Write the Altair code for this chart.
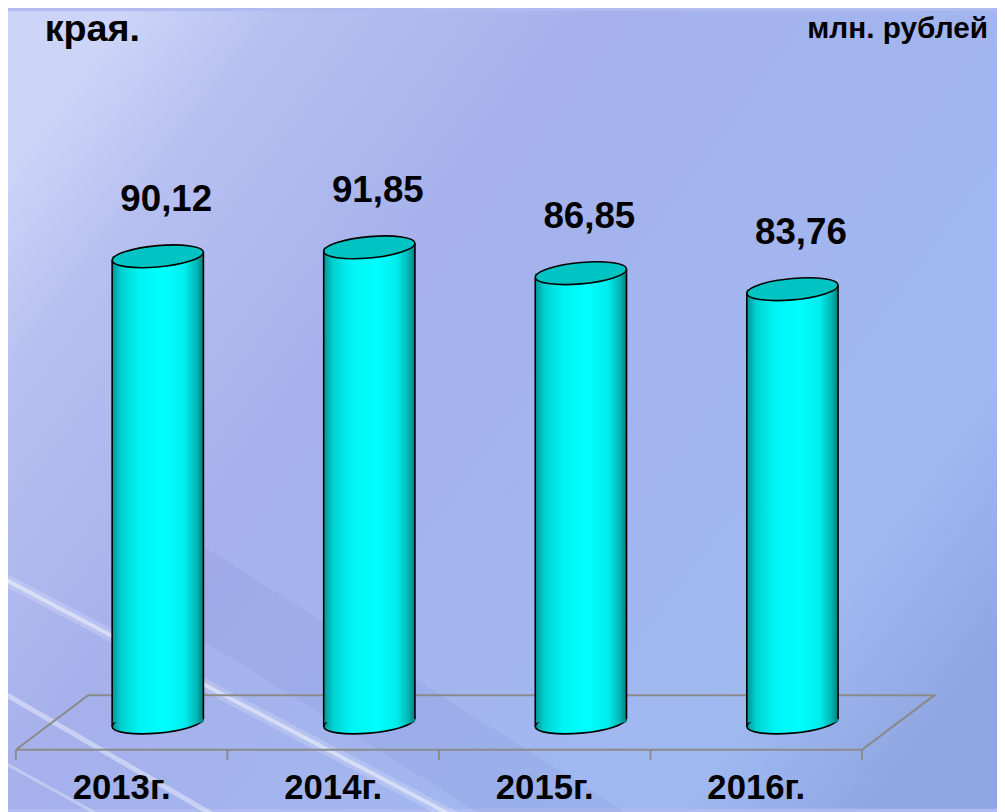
import altair as alt
import pandas as pd

# ---- data ----
years = ["2013г.", "2014г.", "2015г.", "2016г."]
values = [90.12, 91.85, 86.85, 83.76]
value_labels = ["90,12", "91,85", "86,85", "83,76"]
title_tail = ["края."]
unit_label = ["млн. рублей"]

# ---- layout constants ----
FONT = "Liberation Sans, Arial, sans-serif"
W, H = 997, 804
X_DOMAIN = [-0.708, 3.967]
Y_DOMAIN = [-16.68, 137.49]
PX_X = W / (X_DOMAIN[1] - X_DOMAIN[0])
HALF = 0.2157          # half width of a cylinder in slot units
DEPTH_X = 0.171        # floor depth (x shift) in slot units
DEPTH_Y = 5.27         # floor depth (y shift) in value units
TICK_LEN = 1.9

n = len(years)
df = pd.DataFrame({"idx": list(range(n)), "year": years, "value": values, "label": value_labels})
df["xl"] = df["idx"] - HALF
df["xr"] = df["idx"] + HALF
df["zero"] = 0.0
df["year_x"] = df["idx"] - DEPTH_X
df["year_y"] = -DEPTH_Y
df["label_x"] = df["idx"] + 0.04

floor = pd.DataFrame({
    "k": [0, 1, 2, 3, 4],
    "fx": [-0.5 - DEPTH_X, n - 0.5 - DEPTH_X, n - 0.5 + DEPTH_X, -0.5 + DEPTH_X, -0.5 - DEPTH_X],
    "fy": [-DEPTH_Y, -DEPTH_Y, DEPTH_Y, DEPTH_Y, -DEPTH_Y],
})
ticks = pd.DataFrame({"tx": [k - 0.5 - DEPTH_X for k in range(n + 1)]})
ticks["ty"] = -DEPTH_Y
ticks["ty2"] = -DEPTH_Y - TICK_LEN

xs = alt.Scale(domain=X_DOMAIN, nice=False, zero=False)
ys = alt.Scale(domain=Y_DOMAIN, nice=False, zero=False)


def ellipse_path(r, s):
    k = 0.5523
    pts = [(1, 0), (1, k * r), (k, r), (0, r), (-k, r), (-1, k * r), (-1, 0),
           (-1, -k * r), (-k, -r), (0, -r), (k, -r), (1, -k * r), (1, 0)]
    sh = [(x, y - s * x) for x, y in pts]
    f = lambda p: f"{p[0]:.4f},{p[1]:.4f}"
    d = "M" + f(sh[0])
    for i in range(1, 13, 3):
        d += "C" + " ".join(f(p) for p in sh[i:i + 3])
    return d + "Z"


SHEAR = 0.087
ELL = ellipse_path(0.234, SHEAR)
ELL_SIZE = (2 * HALF * PX_X) ** 2
TIP = SHEAR * HALF * PX_X

body_grad = {"gradient": "linear", "x1": 0, "y1": 0, "x2": 1, "y2": 0, "stops": [
    {"offset": 0, "color": "#009494"}, {"offset": 0.1, "color": "#00d0d0"},
    {"offset": 0.3, "color": "#00f4f4"}, {"offset": 0.58, "color": "#00ffff"},
    {"offset": 0.8, "color": "#00ecec"}, {"offset": 0.93, "color": "#00b4b4"},
    {"offset": 1, "color": "#007c7c"}]}
bg_grad = {"gradient": "linear", "x1": 0, "y1": 0.2, "x2": 1, "y2": 0.8, "stops": [
    {"offset": 0, "color": "#ccd4f7"}, {"offset": 0.12, "color": "#b6c0f0"},
    {"offset": 0.35, "color": "#a6b1ec"}, {"offset": 0.6, "color": "#a3b5ee"},
    {"offset": 0.85, "color": "#a0b9f1"}, {"offset": 1, "color": "#90a6e2"}]}

one = pd.DataFrame({"a": [0]})

bg = alt.Chart(one).mark_rect(fill=bg_grad).encode(
    x=alt.value(0), x2=alt.value(W), y=alt.value(0), y2=alt.value(H))

dark_band = alt.Chart(one).mark_rule(color="#4a58b0", strokeWidth=80, opacity=0.07).encode(
    x=alt.value(170), y=alt.value(570), x2=alt.value(600), y2=alt.value(840))
streak1_soft = alt.Chart(one).mark_rule(color="white", strokeWidth=12, opacity=0.18).encode(
    x=alt.value(-10), y=alt.value(569), x2=alt.value(450), y2=alt.value(812))
streak1 = alt.Chart(one).mark_rule(color="white", strokeWidth=4, opacity=0.45).encode(
    x=alt.value(-10), y=alt.value(569), x2=alt.value(450), y2=alt.value(812))
streak2 = alt.Chart(one).mark_rule(color="white", strokeWidth=5, opacity=0.4).encode(
    x=alt.value(-10), y=alt.value(684), x2=alt.value(215), y2=alt.value(815))
streak3 = alt.Chart(one).mark_rule(color="white", strokeWidth=3, opacity=0.3).encode(
    x=alt.value(-10), y=alt.value(754), x2=alt.value(100), y2=alt.value(815))

floor_line = alt.Chart(floor).mark_line(color="#8a8a8a", strokeWidth=2.2).encode(
    x=alt.X("fx:Q", scale=xs, axis=None),
    y=alt.Y("fy:Q", scale=ys, axis=None),
    order=alt.Order("k:Q"))
floor_ticks = alt.Chart(ticks).mark_rule(color="#8a8a8a", strokeWidth=2).encode(
    x=alt.X("tx:Q", scale=xs, axis=None),
    y=alt.Y("ty:Q", scale=ys, axis=None),
    y2="ty2:Q")

base = alt.Chart(df)

bottom = base.mark_point(shape=ELL, size=ELL_SIZE, filled=True, fill=body_grad,
                         stroke="black", strokeWidth=1.6, opacity=1).encode(
    x=alt.X("idx:Q", scale=xs, axis=None),
    y=alt.Y("zero:Q", scale=ys, axis=None))
body = base.mark_rect(fill=body_grad, strokeWidth=0).encode(
    x=alt.X("xl:Q", scale=xs, axis=None), x2="xr:Q",
    y=alt.Y("zero:Q", scale=ys, axis=None), y2="value:Q")
edge_l = base.mark_rule(color="black", strokeWidth=1.6, yOffset=TIP, y2Offset=TIP).encode(
    x=alt.X("xl:Q", scale=xs, axis=None),
    y=alt.Y("zero:Q", scale=ys, axis=None), y2="value:Q")
edge_r = base.mark_rule(color="black", strokeWidth=1.6, yOffset=-TIP, y2Offset=-TIP).encode(
    x=alt.X("xr:Q", scale=xs, axis=None),
    y=alt.Y("zero:Q", scale=ys, axis=None), y2="value:Q")
top = base.mark_point(shape=ELL, size=ELL_SIZE, filled=True, fill="#00c4c4",
                      stroke="black", strokeWidth=1.6, opacity=1).encode(
    x=alt.X("idx:Q", scale=xs, axis=None),
    y=alt.Y("value:Q", scale=ys, axis=None))

vlabels = base.mark_text(font=FONT, fontSize=37, fontWeight="bold", color="black",
                         baseline="alphabetic", dy=-46).encode(
    x=alt.X("label_x:Q", scale=xs, axis=None),
    y=alt.Y("value:Q", scale=ys, axis=None),
    text="label:N")
ylabels = base.mark_text(font=FONT, fontSize=35, fontWeight="bold", color="black",
                         baseline="alphabetic", dy=50).encode(
    x=alt.X("year_x:Q", scale=xs, axis=None),
    y=alt.Y("year_y:Q", scale=ys, axis=None),
    text="year:N")

title_txt = alt.Chart(pd.DataFrame({"t": title_tail})).mark_text(
    font=FONT, fontSize=38, fontWeight="bold", color="black", align="left",
    baseline="alphabetic").encode(x=alt.value(37), y=alt.value(30), text="t:N")
unit_txt = alt.Chart(pd.DataFrame({"t": unit_label})).mark_text(
    font=FONT, fontSize=30, fontWeight="bold", color="black", align="right",
    baseline="alphabetic").encode(x=alt.value(988), y=alt.value(27), text="t:N")

chart = alt.layer(
    bg, dark_band, streak1_soft, streak1, streak2, streak3,
    floor_line, floor_ticks,
    bottom, body, edge_l, edge_r, top,
    vlabels, ylabels, title_txt, unit_txt,
).properties(
    width=W, height=H,
    autosize=alt.AutoSizeParams(type="none"),
    padding=0,
    background="#b0bcf0",
).configure_view(stroke=None)

chart.save("out.html", embed_options={"renderer": "svg", "actions": False})
